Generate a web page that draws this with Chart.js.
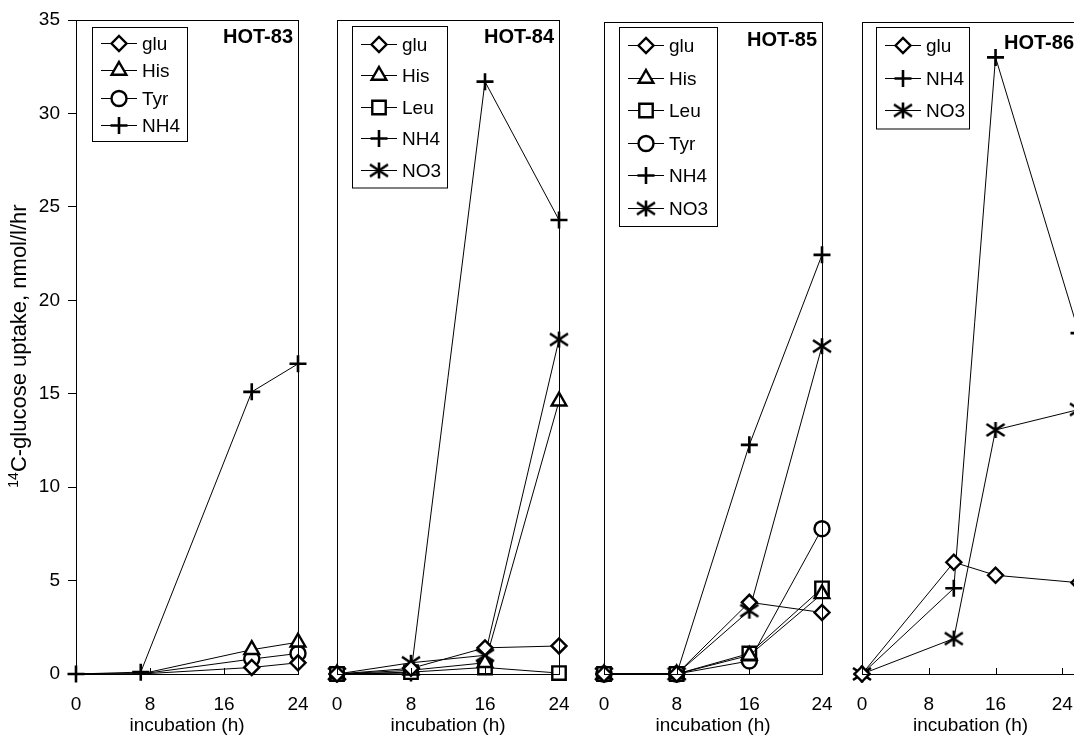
<!DOCTYPE html>
<html>
<head>
<meta charset="utf-8">
<script src="https://cdn.jsdelivr.net/npm/chart.js"></script>
<style>
  html, body { margin: 0; padding: 0; background: #fff; overflow: hidden; }
  #wrap { position: relative; width: 1074px; height: 737px; overflow: hidden; }
  #wrap canvas { position: absolute; left: 0; top: 0; }
</style>
</head>
<body>
<div id="wrap">
  <canvas id="hot83" width="1100" height="737"></canvas>
  <canvas id="hot84" width="1100" height="737"></canvas>
  <canvas id="hot85" width="1100" height="737"></canvas>
  <canvas id="hot86" width="1100" height="737"></canvas>
</div>
<script>
// tick labels
const yTickLabels = [0, 5, 10, 15, 20, 25, 30, 35];
const xTickLabels = [0, 8, 16, 24];

// HOT-83
const hot83Hours = [0, 7, 19, 24];
const hot83Glu = [0, 0, 0.35, 0.6];
const hot83His = [0, 0, 1.3, 1.7];
const hot83Tyr = [0, 0, 0.8, 1.1];
const hot83Nh4 = [0, 0.1, 15.1, 16.6];

// HOT-84
const hot84Hours = [0, 8, 16, 24];
const hot84Glu = [0, 0.3, 1.4, 1.5];
const hot84His = [0, 0.2, 0.6, 14.6];
const hot84Leu = [0, 0.1, 0.35, 0.05];
const hot84Nh4 = [0, 0.05, 31.7, 24.3];
const hot84No3 = [0, 0.6, 1.0, 17.9];

// HOT-85
const hot85Hours = [0, 8, 16, 24];
const hot85Glu = [0, 0, 3.85, 3.3];
const hot85His = [0, 0, 1.0, 4.3];
const hot85Leu = [0, 0, 1.1, 4.6];
const hot85Tyr = [0, 0, 0.7, 7.8];
const hot85Nh4 = [0, 0, 12.3, 22.5];
const hot85No3 = [0, 0, 3.4, 17.6];

// HOT-86
const hot86Hours = [0, 11, 16, 26];
const hot86Glu = [0, 6.0, 5.3, 4.9];
const hot86Nh4 = [0, 4.6, 33.1, 18.3];
const hot86No3 = [0, 1.9, 13.1, 14.2];

const FONT = '"Liberation Sans", Arial, sans-serif';
Chart.defaults.font.family = FONT;
Chart.defaults.color = '#000';

// six-armed star for NO3
function asterisk() {
    const c = document.createElement('canvas');
    c.width = 22;
    c.height = 20;
    const g = c.getContext('2d');
    g.strokeStyle = '#000';
    g.lineWidth = 2.6;
    g.beginPath();
    g.moveTo(11, 2); g.lineTo(11, 18);
    g.moveTo(2, 4); g.lineTo(20, 16);
    g.moveTo(2, 16); g.lineTo(20, 4);
    g.stroke();
    return c;
}

const markers = {
    glu: { pointStyle: 'rectRot', radius: 7.5 },
    His: { pointStyle: 'triangle', radius: 8.5 },
    Leu: { pointStyle: 'rect', radius: 9.5 },
    Tyr: { pointStyle: 'circle', radius: 7.5 },
    NH4: { pointStyle: 'cross', radius: 8.5 },
    NO3: { pointStyle: asterisk(), radius: 8 },
};

function series(label, hours, values, bare) {
    const m = markers[label];
    return {
        label: label,
        data: hours.map((h, i) => ({ x: h, y: values[i] })),
        borderColor: '#000',
        borderWidth: 1,
        pointStyle: m.pointStyle,
        pointRadius: ctx => (ctx.dataIndex < bare ? 0 : m.radius),
        pointBorderWidth: label === 'NH4' ? 2.6 : 2.4,
        pointBorderColor: '#000',
        pointBackgroundColor: '#fff',
        tension: 0,
        clip: false,
    };
}

// frame, inner x ticks, legend box and panel label
const panelDeco = {
    id: 'panelDeco',
    afterDraw(chart, args, o) {
        const { ctx, chartArea: a } = chart;
        const xs = chart.scales.x;
        ctx.save();
        ctx.strokeStyle = '#000';
        ctx.lineWidth = 1;
        ctx.strokeRect(Math.round(a.left) + 0.5, Math.round(a.top) + 0.5,
            Math.round(a.right - a.left), Math.round(a.bottom - a.top));
        ctx.beginPath();
        xs.ticks.forEach(t => {
            const px = Math.round(xs.getPixelForValue(t.value)) + 0.5;
            ctx.moveTo(px, a.bottom);
            ctx.lineTo(px, a.bottom - 6);
        });
        ctx.stroke();

        // legend
        const sets = chart.data.datasets;
        const bx = Math.round(a.left + o.dx), by = Math.round(a.top + o.dy);
        const bh = sets.length * o.rowH + 4;
        ctx.fillStyle = '#fff';
        ctx.fillRect(bx, by, o.boxW, bh);
        ctx.strokeRect(bx + 0.5, by + 0.5, o.boxW, bh);
        ctx.font = '19px ' + FONT;
        ctx.textBaseline = 'middle';
        ctx.textAlign = 'left';
        sets.forEach((ds, i) => {
            const y = Math.round(by + 2 + o.rowH * (i + 0.5)) + 0.5;
            const mx = bx + 27;
            ctx.strokeStyle = '#000';
            ctx.lineWidth = 1;
            ctx.beginPath();
            ctx.moveTo(mx - 18, y);
            ctx.lineTo(mx + 18, y);
            ctx.stroke();
            ctx.lineWidth = ds.label === 'NH4' ? 2.6 : 2.4;
            ctx.fillStyle = '#fff';
            Chart.helpers.drawPoint(ctx, {
                pointStyle: ds.pointStyle,
                radius: markers[ds.label].radius,
                borderWidth: ctx.lineWidth,
                rotation: 0,
            }, mx, y);
            ctx.fillStyle = '#000';
            ctx.fillText(ds.label, mx + 23, y + 1);
        });

        // panel label
        ctx.font = 'bold 20px ' + FONT;
        ctx.textAlign = 'right';
        ctx.fillStyle = '#000';
        ctx.fillText(o.title, a.right - 5, a.top + o.titleDy);

        // y title on first panel only
        if (o.yTitle) {
            ctx.translate(20, 346);
            ctx.rotate(-Math.PI / 2);
            const sup = '14';
            const main = 'C-glucose uptake, nmol/l/hr';
            ctx.font = '14px ' + FONT;
            const ws = ctx.measureText(sup).width;
            ctx.font = '22px ' + FONT;
            const wm = ctx.measureText(main).width;
            const start = -(ws + wm) / 2;
            ctx.textAlign = 'left';
            ctx.textBaseline = 'middle';
            ctx.fillText(main, start + ws, 0);
            ctx.font = '14px ' + FONT;
            ctx.fillText(sup, start, -6);
        }
        ctx.restore();
    }
};

function makePanel(id, datasets, p) {
    const W = 1100;
    return new Chart(document.getElementById(id), {
        type: 'line',
        data: { datasets: datasets },
        options: {
            responsive: false,
            animation: false,
            events: [],
            layout: {
                padding: { left: p.left - p.yW, right: W - p.right, top: p.top, bottom: 0 }
            },
            plugins: {
                legend: { display: false },
                tooltip: { enabled: false },
                panelDeco: p.deco,
            },
            scales: {
                x: {
                    type: 'linear',
                    min: 0,
                    max: p.xMax,
                    afterBuildTicks: s => { s.ticks = xTickLabels.map(v => ({ value: v })); },
                    afterFit: s => { s.height = 737 - 674; },
                    grid: { display: false, drawTicks: false },
                    border: { color: '#000', width: 1 },
                    ticks: { font: { size: 19 }, color: '#000', padding: 19, maxRotation: 0 },
                    title: {
                        display: true,
                        text: 'incubation (h)',
                        font: { size: 19 },
                        color: '#000',
                        padding: { top: 0, bottom: 0 },
                    },
                },
                y: {
                    type: 'linear',
                    min: 0,
                    max: 35,
                    afterBuildTicks: s => { s.ticks = yTickLabels.map(v => ({ value: v })); },
                    afterFit: s => { s.width = p.yW; },
                    border: { color: '#000', width: 1 },
                    grid: {
                        display: p.yLabels,
                        drawOnChartArea: false,
                        drawTicks: true,
                        tickLength: 8,
                        color: '#000',
                    },
                    ticks: { display: p.yLabels, font: { size: 19 }, color: '#000', padding: 8 },
                },
            },
        },
        plugins: [panelDeco],
    });
}

makePanel('hot83', [
    series('glu', hot83Hours, hot83Glu, 2),
    series('His', hot83Hours, hot83His, 2),
    series('Tyr', hot83Hours, hot83Tyr, 2),
    series('NH4', hot83Hours, hot83Nh4, 0),
], {
    left: 76, right: 298, top: 20, yW: 76, xMax: 24, yLabels: true,
    deco: { dx: 16, dy: 7, rowH: 27.5, boxW: 95, title: 'HOT-83', titleDy: 17, yTitle: true },
});

makePanel('hot84', [
    series('glu', hot84Hours, hot84Glu, 0),
    series('His', hot84Hours, hot84His, 0),
    series('Leu', hot84Hours, hot84Leu, 0),
    series('NH4', hot84Hours, hot84Nh4, 0),
    series('NO3', hot84Hours, hot84No3, 0),
], {
    left: 337, right: 559, top: 20, yW: 1, xMax: 24, yLabels: false,
    deco: { dx: 15, dy: 6, rowH: 31.5, boxW: 95, title: 'HOT-84', titleDy: 17 },
});

makePanel('hot85', [
    series('glu', hot85Hours, hot85Glu, 0),
    series('His', hot85Hours, hot85His, 0),
    series('Leu', hot85Hours, hot85Leu, 0),
    series('Tyr', hot85Hours, hot85Tyr, 0),
    series('NH4', hot85Hours, hot85Nh4, 0),
    series('NO3', hot85Hours, hot85No3, 0),
], {
    left: 604, right: 822, top: 22, yW: 1, xMax: 24, yLabels: false,
    deco: { dx: 15, dy: 5, rowH: 32.5, boxW: 98, title: 'HOT-85', titleDy: 18 },
});

makePanel('hot86', [
    series('glu', hot86Hours, hot86Glu, 0),
    series('NH4', hot86Hours, hot86Nh4, 0),
    series('NO3', hot86Hours, hot86No3, 0),
], {
    left: 862, right: 1079, top: 22, yW: 1, xMax: 26, yLabels: false,
    deco: { dx: 14, dy: 5, rowH: 32.5, boxW: 93, title: 'HOT-86', titleDy: 21 },
});
</script>
</body>
</html>
